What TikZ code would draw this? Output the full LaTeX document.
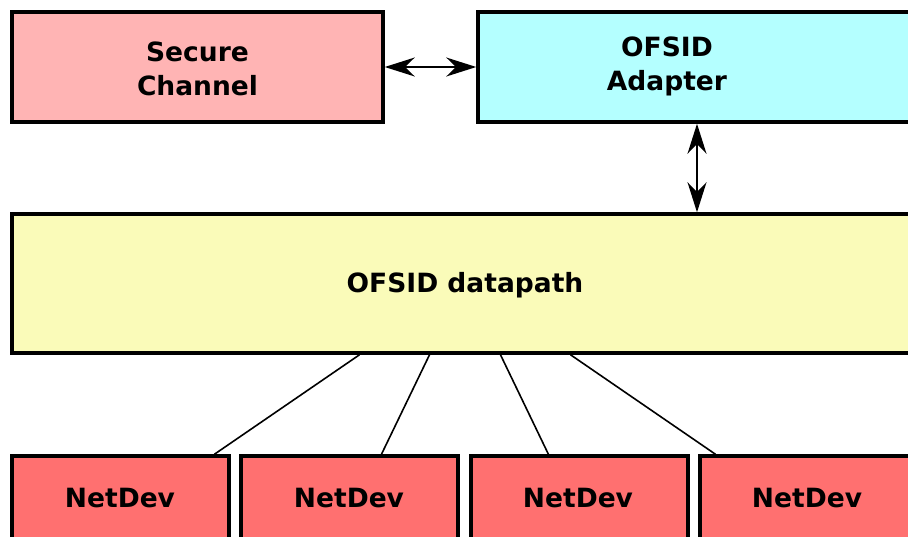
\documentclass[tikz,border=0pt]{standalone}
\usepackage{fontspec}
\setmainfont{DejaVu Sans}
\definecolor{channelpink}{RGB}{255,180,180}
\definecolor{adaptercyan}{RGB}{180,255,255}
\definecolor{pathyellow}{RGB}{250,251,185}
\definecolor{devred}{RGB}{255,112,112}
\usetikzlibrary{arrows.meta,positioning,calc}

\begin{document}
\begin{tikzpicture}[x=1pt, y=-1pt,
    block/.style={rectangle, draw, line width=3.5pt, inner sep=0pt, align=center,
                  font=\fontsize{26.5}{34}\selectfont\bfseries},
    txt/.style={align=center, inner sep=0pt, font=\fontsize{26.5}{34}\selectfont\bfseries},
    biarrow/.style={line width=1.6pt, {Stealth[length=30pt,width=19pt]}-{Stealth[length=30pt,width=19pt]}},
    link/.style={line width=1.6pt}]
    \clip (0,0) rectangle (908,536);

    \node[block, fill=channelpink, minimum width=371pt, minimum height=110pt] (chan) at (197.5,67) {};
    \node[txt] (chantxt) at (197.5,68.5) {Secure\\Channel};
    \node[block, fill=adaptercyan, minimum width=438pt, minimum height=110pt] (adapter) at (697,67) {};
    \node[txt] (adaptertxt) at (667,66.5) {OFSID\\Adapter};
    \node[block, fill=pathyellow, minimum width=906pt, minimum height=139pt] (dp) at (465,283.5) {};
    \node[txt] (dptxt) at (465,285) {OFSID datapath};

    \node[block, fill=devred, minimum width=217pt, minimum height=120pt] (dev1) at (120.5,516) {};
    \node[block, fill=devred, minimum width=217pt, minimum height=120pt] (dev2) at (349.5,516) {};
    \node[block, fill=devred, minimum width=217pt, minimum height=120pt] (dev3) at (579.5,516) {};
    \node[block, fill=devred, minimum width=217pt, minimum height=120pt] (dev4) at (808.5,516) {};
    \node[txt] (dev1txt) at (120,498) {NetDev};
    \node[txt] (dev2txt) at (349,498) {NetDev};
    \node[txt] (dev3txt) at (578,498) {NetDev};
    \node[txt] (dev4txt) at (807,498) {NetDev};

    \draw[biarrow] (chan.east) -- (adapter.west);
    \draw[biarrow] (adapter.south) -- (adapter.south |- dp.north);

    \draw[link] ($(dp.south west)!0.384!(dp.south east)$) -- ($(dev1.north west)!0.926!(dev1.north east)$);
    \draw[link] ($(dp.south west)!0.461!(dp.south east)$) -- ($(dev2.north west)!0.645!(dev2.north east)$);
    \draw[link] ($(dp.south west)!0.539!(dp.south east)$) -- ($(dev3.north west)!0.359!(dev3.north east)$);
    \draw[link] ($(dp.south west)!0.616!(dp.south east)$) -- ($(dev4.north west)!0.078!(dev4.north east)$);
\end{tikzpicture}
\end{document}
